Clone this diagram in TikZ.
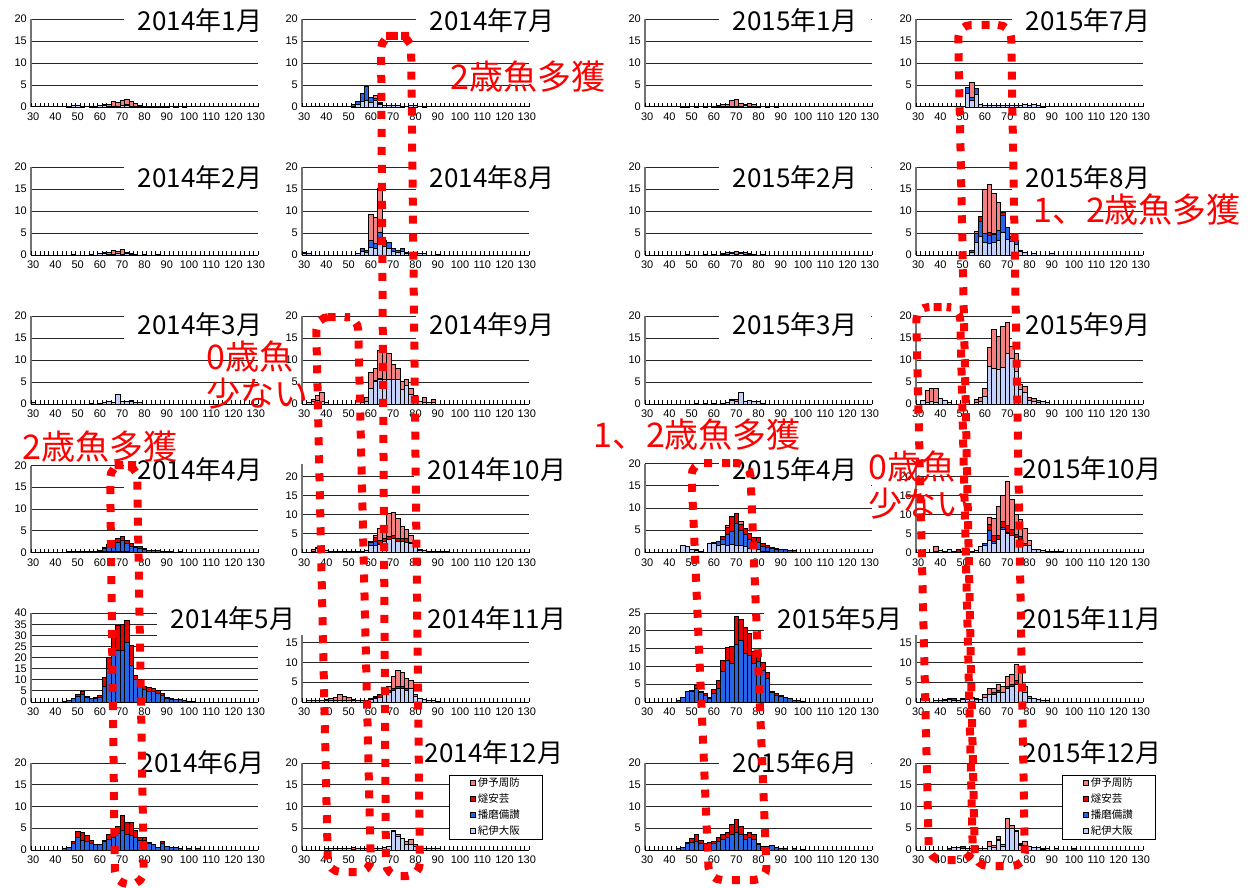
\documentclass[tikz,border=0pt]{standalone}
\usepackage{fontspec}
\setmainfont{Liberation Sans}
\newfontfamily\jpfont{Noto Sans CJK JP}
\usetikzlibrary{positioning}

\definecolor{iyocol}{RGB}{244,128,128}
\definecolor{hiucol}{RGB}{235,0,0}
\definecolor{harcol}{RGB}{40,100,230}
\definecolor{kiicol}{RGB}{195,208,250}
\definecolor{dotred}{RGB}{255,0,0}

\newcounter{panelno}

\tikzset{
  panel/.style n args={3}{shift={(#1,#2)}, x=4.451pt, y=#3pt},
  gridline/.style={black!85, line width=0.9pt},
  xaxisline/.style={black, line width=1pt},
  yaxisline/.style={black!55, line width=1.6pt},
  tickline/.style={black, line width=0.7pt},
  ylab/.style={anchor=east, inner sep=1pt, xshift=-3pt, font=\fontsize{11}{12}\selectfont},
  xlab/.style={anchor=north, inner sep=1pt, yshift=-5pt, font=\fontsize{11}{12}\selectfont},
  barline/.style={draw=black, line width=0.7pt},
  monthtitle/.style={fill=white, inner xsep=14pt, inner ysep=7pt, font=\jpfont\fontsize{26}{30}\selectfont},
  redots/.style={draw=dotred, line width=8pt, dash pattern=on 8pt off 10pt, rounded corners=13pt},
  catchlabel/.style={text=dotred, inner sep=0pt, font=\jpfont\fontsize{34}{37}\selectfont},
  legbox/.style={draw=black, fill=white, line width=0.8pt, minimum width=93pt, minimum height=64pt},
  legkey/.style={draw=black, line width=0.5pt, minimum size=5pt, inner sep=0pt},
  legtext/.style={inner sep=0pt, font=\jpfont\fontsize{10.5}{12}\selectfont},
}

% 軸と目盛り
\newcommand\axes[3]{%
  \foreach \v in {5,10,...,#3} \draw[gridline] (0,\v) -- (51,\v);
  \draw[yaxisline] (0,0) -- (0,#2);
  \foreach \t in {0,...,51} \draw[tickline] (\t,0) -- ++(0pt,4pt);
  \draw[xaxisline] (0,0) -- (51,0);
  \foreach \v in {0,5,...,#3} \node[ylab] (#1-y\v) at (0,\v) {\v};
  \foreach \v in {30,40,...,130} \node[xlab] (#1-x\v) at (\v/2-14.5,0) {\v};
}

% 積み上げ棒（紀伊大阪・播磨備讃・燧安芸・伊予周防）
\newcommand\seg[3]{\ifdim#2pt>0pt \filldraw[barline, fill=#1] (\len/2-15,#3) rectangle (\len/2-14,#3+#2);\fi}
\newcommand\drawbars[1]{%
  \foreach \len/\kii/\har/\hiu/\iyo in {#1}{%
    \seg{kiicol}{\kii}{0}
    \pgfmathsetmacro\topb{\kii+\har}
    \seg{harcol}{\har}{\kii}
    \pgfmathsetmacro\topr{\topb+\hiu}
    \seg{hiucol}{\hiu}{\topb}
    \seg{iyocol}{\iyo}{\topr}
  }}

\newcommand\panel[9]{%
  \stepcounter{panelno}\edef\pname{p\arabic{panelno}}%
  \begin{scope}[panel={#1}{#2}{#3}]\axes{\pname}{#4}{#5}\end{scope}
  \node[monthtitle] (\pname-title) at (#6,#7) {#8};
  \begin{scope}[panel={#1}{#2}{#3}]\drawbars{#9}\end{scope}}

\begin{document}
\begin{tikzpicture}[x=1pt, y=-1pt]
\fill[white] (0,0) rectangle (1251,888);
\useasboundingbox (0,0) rectangle (1251,888);

% 2014年1月～6月
\panel{31}{107}{4.4}{20}{20}{200}{21}{2014年1月}{
  46/.2/0/0/0, 48/.3/0/0/0, 50/.3/0/0/0, 52/.2/0/0/0, 56/.2/0/0/0, 58/.2/0/0/0,
  60/.3/0/0/0, 62/.3/0/0/.2, 64/.2/0/0/.3, 66/.2/0/0/1.0, 68/.2/0/0/.8, 70/.3/0/0/1.2,
  72/.3/.2/0/1.3, 74/.2/0/0/1.0, 76/.2/0/0/.7, 78/.2/0/0/.2, 80/.2/0/0/0, 82/.2/0/0/0,
  84/.2/0/0/0, 86/.2/0/0/0, 88/.2/0/0/0, 90/.2/0/0/0, 94/.2/0/0/0, 98/.2/0/0/0}
\panel{31}{255}{4.4}{20}{20}{200}{178}{2014年2月}{
  48/.2/0/0/0, 56/.2/0/0/0, 60/.3/0/0/0, 62/.3/0/0/.3, 64/.2/0/0/.3, 66/.2/0/0/.8,
  68/.3/0/0/.5, 70/.2/0/0/1.1, 72/.3/0/0/.4, 74/.2/0/0/.2, 76/.2/0/0/0, 80/.2/0/0/0, 86/.2/0/0/0}
\panel{31}{404}{4.4}{20}{20}{200}{325}{2014年3月}{
  30/.3/0/0/0, 56/.2/0/0/0, 60/.2/0/0/0, 62/.3/0/0/0, 64/.5/0/0/0, 66/.4/0/0/0,
  68/2.1/0/0/0, 70/.6/0/0/0, 72/.5/0/0/0, 74/.6/0/0/.2, 76/.4/0/0/0, 78/.3/0/0/0}
\panel{31}{552.5}{4.35}{20}{20}{200}{470}{2014年4月}{
  46/.2/0/0/0, 48/.2/0/0/0, 50/.3/0/0/0, 52/.3/0/0/0, 54/.2/0/0/0, 56/.3/0/0/0,
  58/.3/0/0/0, 60/.2/.4/0/0, 62/.2/.8/.2/0, 64/.2/1.2/.5/0, 66/.2/1.9/.7/0, 68/.2/2.2/.9/0,
  70/.2/2.5/.9/0, 72/.2/2.0/.7/0, 74/.1/1.4/.6/0, 76/.1/1.0/.3/0, 78/.1/.9/.3/0,
  80/.1/.7/.2/0, 82/.1/.5/0/0, 84/.1/.5/0/0, 86/0/.4/0/0, 88/0/.3/0/0, 90/0/.3/0/0,
  92/0/.2/0/0, 96/0/.2/0/0}
\panel{31}{702}{2.22}{40}{40}{233}{619}{2014年5月}{
  44/0/.4/0/0, 46/0/.8/0/0, 48/0/1.5/0/0, 50/0/2.5/1.0/0, 52/0/3.5/1.2/0, 54/0/2.2/.3/0,
  56/0/1.5/0/0, 58/0/1.6/.4/0, 60/0/2.0/1.0/0, 62/0/6.9/4.2/0, 64/0/15/5/0, 66/0/22/7/0,
  68/0/23.4/11.3/0, 70/0/23.4/11.5/0, 72/0/27/10/0, 74/0/16.7/9/0, 76/0/10/2/0,
  78/0/8/2/0, 80/0/5.5/1.7/0, 82/0/5/1.6/0, 84/0/4.6/1.6/0, 86/0/4/1.4/0, 88/0/3/.9/0,
  90/0/1.6/.4/0, 92/0/1.4/.3/0, 94/0/1.0/.2/0, 96/0/1.0/.2/0, 98/0/.7/0/0,
  100/0/.5/0/0, 102/0/.3/0/0}
\panel{31}{850}{4.35}{20}{20}{202}{763}{2014年6月}{
  44/0/.3/0/0, 46/0/.5/0/0, 48/0/1.5/.6/0, 50/0/2.9/1.5/0, 52/0/2.3/1.7/0, 54/0/2.0/1.3/0,
  56/0/1.6/.7/0, 58/0/1.2/.2/0, 60/0/1.3/.1/0, 62/0/1.9/.4/0, 64/0/2.5/1.1/0,
  66/0/3.0/1.6/0, 68/0/3.8/1.7/0, 70/0/4.6/3.4/0, 72/0/3.6/2.8/0, 74/0/3.3/3.1/0,
  76/0/3.0/1.6/0, 78/0/2.3/.6/0, 80/0/2.2/.7/0, 82/0/1.6/.2/0, 84/0/1.3/0/0,
  86/0/.6/0/0, 88/0/1.6/.4/0, 90/0/.8/0/0, 92/0/.5/0/0, 94/0/.5/0/0, 96/0/.4/0/0,
  100/0/.3/0/0, 104/0/.3/0/0}

% 2014年7月～12月
\panel{302}{107}{4.4}{20}{20}{492}{21}{2014年7月}{
  52/.2/.3/0/0, 54/.5/.7/0/0, 56/1.2/1.8/.2/0, 58/1.6/3.0/0/0, 60/1.0/1.2/0/0,
  62/1.4/.6/0/.6, 64/.5/.3/0/.3, 66/.4/0/0/0, 68/.3/0/0/0, 70/.3/0/0/0, 72/.3/0/0/0,
  74/.2/0/0/0, 78/.3/0/0/0, 80/.3/0/0/0, 84/.2/0/0/0}
\panel{302}{255}{4.4}{20}{20}{492}{178}{2014年8月}{
  30/.4/.3/0/0, 32/.3/0/0/0, 54/.3/.1/0/0, 56/.8/.7/0/0, 58/.6/.5/0/0, 60/1.7/1.6/0/6.0,
  62/1.5/1.1/0/6.0, 64/3.0/2.1/0/10.1, 66/2.0/1.3/0/0, 68/1.5/1.4/0/0, 70/.9/.6/0/0,
  72/.5/.5/0/0, 74/.8/.7/0/0, 76/.4/.2/0/0, 78/.3/0/0/0, 80/.3/0/0/0, 82/.3/0/0/0,
  84/.3/0/0/0, 90/.2/0/0/0}
\panel{302}{404}{4.4}{20}{20}{492}{325}{2014年9月}{
  32/.3/0/0/0, 34/.5/0/0/.6, 36/.8/0/0/1.2, 38/.6/0/0/2.0, 40/.3/0/0/0, 56/.3/0/0/.7,
  58/.5/0/0/1.1, 60/3.6/0/0/3.5, 62/5.2/.2/0/2.7, 64/5.7/.2/0/6.2, 66/5.5/0/0/6.2,
  68/5.6/0/0/5.9, 70/5.7/0/0/3.2, 72/5.5/0/0/2.5, 74/3.3/0/0/1.8, 76/4.2/0/0/1.3,
  78/2.3/0/0/1.2, 80/1.3/0/0/.7, 82/.6/0/0/0, 84/.4/0/0/1.1, 86/.4/0/0/0, 88/.3/0/0/.7}
\panel{302}{552.5}{3.8}{23.4}{20}{497}{470}{2014年10月}{
  34/.4/0/0/.3, 36/1.0/0/0/.4, 38/1.2/0/0/.2, 40/.6/0/0/0, 42/.3/0/0/0, 44/.3/0/0/0,
  46/.3/0/0/0, 48/.3/0/0/0, 50/.3/0/0/0, 52/.3/0/0/0, 54/.3/0/0/0, 56/.3/0/0/0,
  58/.6/0/0/0, 60/2.0/.7/.3/0, 62/1.9/1.0/1.0/.6, 64/2.2/.3/.7/3.2, 66/3.0/0/.7/2.7,
  68/3.5/0/.8/6.0, 70/3.8/0/.6/6.2, 72/3.0/0/.8/5.3, 74/3.0/0/.6/3.2, 76/2.8/0/.8/2.4,
  78/2.3/0/.5/1.7, 80/1.5/0/.3/.6, 82/.5/0/.3/0, 84/.5/0/0/0, 86/.3/0/0/0, 88/.3/0/0/0,
  90/.2/0/0/0, 92/.2/0/0/0, 94/.2/0/0/0}
\panel{302}{702}{3.95}{17}{15}{497}{619}{2014年11月}{
  32/.3/0/0/0, 34/.3/0/0/0, 36/.3/0/0/.1, 38/.3/0/0/.2, 40/.3/0/0/.3, 42/.3/0/0/.5,
  44/.4/0/0/.8, 46/.5/0/0/1.5, 48/.5/0/0/1.0, 50/.5/0/0/.7, 52/.4/0/0/.2, 54/.4/0/0/0,
  56/.4/0/0/0, 58/.5/0/0/0, 60/.6/.2/0/.2, 62/1.0/.3/.2/0, 64/1.3/0/.7/0, 66/2.0/0/.3/.7,
  68/2.5/0/.5/1.0, 70/3.0/0/.5/3.0, 72/3.5/0/.5/4.0, 74/3.5/0/.5/3.5, 76/3.0/0/.5/2.5,
  78/3.5/0/0/2.0, 80/1.5/0/0/.5, 82/.8/0/0/0, 84/.6/0/0/0, 86/.4/0/0/0, 88/.3/0/0/0,
  90/.2/0/0/0}
\panel{302}{850}{4.35}{20}{20}{494}{753}{2014年12月}{
  40/.3/0/0/0, 42/.3/0/0/0, 44/.3/0/0/0, 46/.3/0/0/0, 48/.3/0/0/0, 50/.3/0/0/0,
  52/.2/0/0/.3, 54/.3/0/0/0, 56/.3/0/0/0, 58/.3/0/0/0, 60/.3/0/0/0, 62/.3/0/0/0,
  64/.3/0/0/0, 66/.6/0/0/0, 68/.9/0/0/0, 70/4.3/0/.2/0, 72/3.2/0/0/.3, 74/2.6/0/0/0,
  76/1.4/0/0/.5, 78/1.4/0/0/1.0, 80/.8/0/0/.4, 82/.3/0/0/0, 84/.3/0/0/0, 86/.3/0/0/0,
  88/.3/0/0/0, 90/.3/0/0/0}

% 2015年1月～6月
\panel{645}{107}{4.4}{20}{20}{795}{21}{2015年1月}{
  46/.2/0/0/0, 48/.2/0/0/0, 52/.2/0/0/0, 56/.2/0/0/0, 60/.2/0/0/0, 62/.2/0/0/.2,
  64/.2/0/0/.3, 66/.2/0/0/.4, 68/.2/0/0/1.3, 70/.2/0/0/1.6, 72/.2/0/0/.7, 74/.3/0/0/.4,
  76/.2/0/0/.7, 78/.2/0/0/.3, 80/.2/0/0/0, 84/.2/0/0/0, 88/.2/0/0/0}
\panel{645}{255}{4.4}{20}{20}{795}{178}{2015年2月}{
  48/.2/0/0/0, 56/.2/0/0/0, 60/.2/0/0/0, 64/.2/0/0/.2, 66/.2/0/0/.4, 68/.3/0/0/.3,
  70/.2/0/0/.7, 72/.3/0/0/.3, 74/.2/0/0/.4, 76/.2/0/0/.2, 78/.2/0/0/0, 82/.2/0/0/0}
\panel{645}{404}{4.4}{20}{20}{795}{325}{2015年3月}{
  52/.2/0/0/0, 56/.2/0/0/0, 60/.2/0/0/0, 64/.2/0/0/0, 66/.3/0/0/0, 68/.9/0/0/.2,
  70/.7/0/0/.3, 72/2.6/0/0/0, 74/.5/0/0/0, 76/.8/0/0/0, 78/.6/0/0/0, 80/.5/0/0/0,
  82/.2/0/0/0}
\panel{645}{552.5}{4.45}{20}{20}{795}{470}{2015年4月}{
  46/1.6/0/0/0, 48/1.4/0/0/0, 50/.8/0/0/0, 52/.4/.2/0/0, 54/.3/0/0/0, 58/2.0/0/0/0,
  60/2.1/.2/0/0, 62/1.6/.8/0/0, 64/1.8/1.2/.7/0, 66/1.6/2.4/1.6/.4, 68/1.8/3.0/3.4/0,
  70/1.5/5.1/2.3/0, 72/1.7/3.3/1.3/.6, 74/1.3/2.8/1.4/0, 76/1.0/2.0/1.3/0,
  78/1.0/1.5/.8/0, 80/.6/1.6/1.1/0, 82/.2/1.2/.6/0, 84/.2/1.0/.4/0, 86/.1/.9/.2/0,
  88/.1/.7/.2/0, 90/0/.8/0/0, 92/0/.6/0/0, 94/0/.5/0/0, 96/0/.4/0/0}
\panel{645}{702}{3.56}{25}{25}{840}{619}{2015年5月}{
  44/0/.5/0/0, 46/0/1.3/0/0, 48/0/3.0/0/0, 50/0/3.1/.3/0, 52/0/3.9/.9/0, 54/0/2.8/.3/0,
  56/0/1.8/.5/0, 58/0/1.1/.3/0, 60/0/2.4/1.2/0, 62/0/3.9/2.3/0, 64/0/8.5/3.1/0,
  66/0/11.6/3.7/0, 68/0/10.9/4.7/0, 70/0/16.3/7.7/0, 72/0/17.4/5.9/0, 74/0/13.7/7.3/0,
  76/0/13.2/6.1/0, 78/0/10.9/3.2/0, 80/0/11.3/3.0/0, 82/0/8.9/2.2/0, 84/0/6.7/1.6/0,
  86/0/2.6/.4/0, 88/0/2.0/.5/0, 90/0/1.6/.4/0, 92/0/1.2/0/0, 94/0/1.0/0/0,
  96/0/.6/0/0, 98/0/.4/0/0, 100/0/.2/0/0}
\panel{645}{850}{4.35}{20}{20}{795}{763}{2015年6月}{
  44/0/.3/0/0, 46/0/.5/0/0, 48/0/1.5/.2/0, 50/0/1.7/1.0/0, 52/0/2.0/1.6/0, 54/0/1.6/.6/0,
  56/0/1.2/.4/0, 58/0/1.3/.4/0, 60/0/1.6/.5/0, 62/0/2.0/.9/0, 64/0/2.4/1.2/0,
  66/0/2.8/1.2/0, 68/0/3.5/2.5/0, 70/0/4.0/3.1/0, 72/0/3.5/2.0/0, 74/0/2.5/1.0/0,
  76/0/2.8/1.2/0, 78/0/2.5/1.0/0, 80/0/1.2/.3/0, 82/0/.9/0/0, 84/0/.8/0/0,
  86/0/1.0/.1/0, 88/0/.6/0/0, 90/0/.4/0/0, 92/0/.4/0/0, 96/0/.3/0/0, 100/0/.2/0/0}

% 2015年7月～12月
\panel{916}{107}{4.4}{20}{20}{1088}{21}{2015年7月}{
  52/3.2/1.2/0/0, 54/1.6/.7/0/3.2, 56/2.8/1.4/0/0, 58/.5/0/0/0, 60/.4/0/0/0,
  62/.4/0/0/0, 64/.4/0/0/0, 66/.3/0/0/0, 68/.3/0/0/0, 70/.3/0/0/0, 72/.3/0/0/0,
  74/.3/0/0/0, 76/.3/0/0/0, 78/.5/0/0/0, 80/.3/0/0/0, 82/.6/0/0/0, 84/.3/0/0/0,
  86/.2/0/0/0}
\panel{916}{255}{4.4}{20}{20}{1088}{178}{2015年8月}{
  54/.5/.5/0/0, 56/2.8/2.1/0/.5, 58/4.2/3.4/1.1/0, 60/2.8/2.1/0/10, 62/2.7/1.8/.6/11,
  64/2.8/1.9/.2/9, 66/3.3/2.3/0/6.4, 68/5.2/3.7/.9/0, 70/3.6/2.6/0/0, 72/3.2/.6/.4/0,
  74/2.5/.8/0/0, 76/.8/.2/0/0, 78/.5/0/0/0, 82/.3/0/0/0, 90/.3/0/0/0}
\panel{916}{404}{4.4}{20}{20}{1088}{325}{2015年9月}{
  32/.8/0/0/0, 34/.3/0/0/2.9, 36/.5/0/0/3.1, 38/.4/0/0/3.2, 40/1.2/0/0/0, 42/.8/0/0/0,
  44/.3/0/0/0, 56/.3/0/0/.7, 58/.6/0/0/1.0, 60/1.8/0/0/1.8, 62/8.5/0/0/4.3,
  64/8.2/0/0/8.8, 66/7.8/0/0/7.5, 68/8.3/0/0/9.3, 70/11.5/0/0/7.0, 72/10.3/0/0/2.7,
  74/7.5/0/0/4.0, 76/3.3/0/0/1.2, 78/2.7/0/0/1.3, 80/.8/0/0/.7, 82/.5/0/0/.7,
  84/.3/0/0/.5, 86/.5/0/0/0, 88/.3/0/0/0}
\panel{916}{552.5}{3.8}{23.4}{20}{1092}{469}{2015年10月}{
  32/.2/0/0/0, 38/.3/0/0/1.3, 40/.5/0/0/0, 42/.3/0/0/0, 44/.8/0/0/0, 46/.3/0/0/0,
  48/0/0/.8/0, 50/.3/0/0/0, 52/.3/0/0/0, 54/.3/0/0/0, 56/.5/0/0/0, 58/1.5/0/0/0,
  60/2.0/.3/0/0, 62/3.2/2.6/1.7/1.8, 64/2.4/.5/1.7/4.4, 66/3.5/0/1.1/7.5,
  68/6.0/.5/1.6/6.9, 70/5.0/.3/1.8/11.5, 72/4.5/0/1.5/7.9, 74/4.0/0/.7/5.3,
  76/3.5/0/.8/4.5, 78/2.0/0/.4/3.9, 80/2.0/0/0/1.2, 82/.8/0/0/0, 84/.8/0/0/0,
  86/.5/0/0/0, 88/.4/0/0/0, 90/.3/0/0/0, 92/.3/0/0/0, 94/.3/0/0/0}
\panel{916}{702}{3.95}{17}{15}{1092}{619}{2015年11月}{
  38/.3/0/0/0, 40/.4/0/0/0, 42/.3/0/0/.3, 44/.6/0/0/.2, 46/.5/0/.5/0, 48/.5/0/0/0,
  50/.6/0/0/.2, 52/.6/0/0/0, 54/.8/.4/0/0, 56/.6/0/0/.2, 58/.6/0/0/0, 60/1.3/0/0/.7,
  62/2.0/0/0/1.5, 64/2.0/0/.5/1.0, 66/2.5/0/.5/1.5, 68/2.5/0/0/1.5, 70/3.5/0/.5/2.5,
  72/4.0/0/.5/2.5, 74/4.5/0/1.0/4.0, 76/4.0/0/.5/3.0, 78/2.5/0/0/1.5, 80/1.0/0/0/.5,
  82/.8/0/0/0, 84/.6/0/0/0, 86/.4/0/0/0, 88/.3/0/0/0}
\panel{916}{850}{4.35}{20}{20}{1092}{753}{2015年12月}{
  44/0/0/.4/0, 46/.5/0/0/0, 48/.5/0/0/0, 50/.3/0/.5/0, 52/.4/0/0/0, 54/.3/0/0/0,
  56/.3/0/0/0, 58/.3/0/0/0, 60/.3/0/0/0, 62/.8/0/0/1.1, 64/.7/0/0/.3, 66/2.2/0/.3/.7,
  68/.9/0/0/.3, 70/5.0/0/0/2.2, 72/4.9/0/0/.7, 74/4.3/0/0/.3, 76/1.0/0/.3/.3,
  78/1.0/0/0/1.0, 80/.8/0/0/0, 82/.6/0/0/0, 84/.5/0/0/0, 86/.2/0/0/.2, 88/.3/0/0/0,
  92/0/0/0/.4, 100/0/0/.3/0}

% 凡例
\node[legbox] (leg-a) at (495.5,807) {};
\foreach \c/\t [count=\i] in {iyocol/伊予周防, hiucol/燧安芸, harcol/播磨備讃, kiicol/紀伊大阪} {
  \node[legkey, fill=\c] (leg-a-k\i) at (473,{767+16*\i}) {};
  \node[legtext, right=2pt of leg-a-k\i] (leg-a-t\i) {\t};
}
\node[legbox] (leg-b) at (1108.5,807) {};
\foreach \c/\t [count=\i] in {iyocol/伊予周防, hiucol/燧安芸, harcol/播磨備讃, kiicol/紀伊大阪} {
  \node[legkey, fill=\c] (leg-b-k\i) at (1086,{767+16*\i}) {};
  \node[legtext, right=2pt of leg-b-k\i] (leg-b-t\i) {\t};
}

% 赤い点線の囲み
\draw[redots] (396,36) -- (411,36) -- (420,876) -- (386,876) -- (381,36) -- cycle;
\draw[redots] (337,317) -- (358,317) -- (371,872) -- (328,872) -- (316,317) -- cycle;
\draw[redots] (123,465) -- (137,465) -- (144,884) -- (115,884) -- (110,465) -- cycle;
\draw[redots] (720,463) -- (750,463) -- (767,880) -- (709,880) -- (691,463) -- cycle;
\draw[redots] (985,25) -- (1011,25) -- (1025,866) -- (975,866) -- (958,25) -- cycle;
\draw[redots] (938,307) -- (960,307) -- (973,860) -- (929,860) -- (916,307) -- cycle;

% 注記
\node[catchlabel] (note-a) at (528,77) {2歳魚多獲};
\node[catchlabel] (note-b) at (1137,210) {1、2歳魚多獲};
\node[catchlabel, align=left, anchor=west] (note-c) at (206,375) {0歳魚\\少ない};
\node[catchlabel] (note-d) at (100,447) {2歳魚多獲};
\node[catchlabel] (note-e) at (697,435) {1、2歳魚多獲};
\node[catchlabel, align=left, anchor=west] (note-f) at (868,485) {0歳魚\\少ない};

\end{tikzpicture}
\end{document}
